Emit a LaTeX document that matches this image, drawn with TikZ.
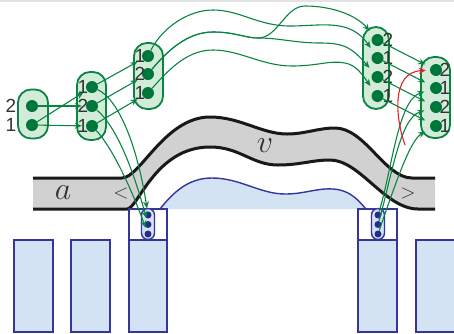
\RequirePackage{fix-cm}
\documentclass[tikz,border=0pt]{standalone}
\usepackage{fontspec}
\setmainfont{Liberation Sans}
\usetikzlibrary{arrows.meta}
\definecolor{gline}{HTML}{0A8443}
\definecolor{gdot}{HTML}{00773A}
\definecolor{gfill}{HTML}{D3ECDA}
\definecolor{bline}{HTML}{36369A}
\definecolor{bfill}{HTML}{D3E3F3}
\definecolor{bdot}{HTML}{2A2A8C}
\definecolor{bandc}{HTML}{D1D1D1}
\definecolor{txt}{HTML}{333333}
\definecolor{rline}{HTML}{E8202A}
\begin{document}
\begin{tikzpicture}[x=1pt,y=-1pt,
  gcap/.style={draw=gline, fill=gfill, line width=1.8pt, rounded corners=13pt, inner sep=0},
  gdotn/.style={circle, fill=gdot, inner sep=0, minimum size=12pt},
  bcap/.style={draw=bline, fill=bfill, line width=1.4pt, rounded corners=6.5pt, inner sep=0, minimum width=13pt, minimum height=31pt},
  bdotn/.style={circle, fill=bdot, inner sep=0, minimum size=7pt},
  lab/.style={text=txt, font=\fontsize{19}{19}\selectfont, inner sep=0},
  slab/.style={text=txt, font=\fontsize{20}{20}\selectfont, inner sep=0},
  mlab/.style={text=txt, font=\fontsize{32}{32}\selectfont, inner sep=0},
  garrow/.style={draw=gline, line width=1.1pt, -{Stealth[length=7pt,width=6pt]}, shorten >=6pt},
  sarrow/.style={draw=gline, line width=1.1pt, -{Stealth[length=7pt,width=6pt]}, shorten >=3pt},
  rarrow/.style={draw=rline, line width=1.1pt, -{Stealth[length=7pt,width=6pt]}, shorten >=4pt},
  bbox/.style={draw=bline, line width=1.8pt},
  bandedge/.style={draw=black!90, line width=3pt}
]
\useasboundingbox (0,0) rectangle (454,333);
\clip (0,0) rectangle (454,333);
\fill[gray!22] (0,0) rectangle (454,2);

% band
\fill[bandc] (33,178) -- (122,178) .. controls (140,178) and (165,117) .. (210,117)
  .. controls (240,117) and (262,134) .. (287,134) .. controls (305,134) and (318,128) .. (335,128)
  .. controls (365,128) and (385,178) .. (412,178) -- (435,178) -- (435,209) -- (418,209)
  .. controls (385,209) and (360,160) .. (330,160) .. controls (312,160) and (300,165) .. (278,165)
  .. controls (252,165) and (240,147) .. (210,147) .. controls (155,147) and (138,209) .. (127,209)
  -- (33,209) -- cycle;
\draw[bandedge] (33,178) -- (122,178) .. controls (140,178) and (165,117) .. (210,117)
  .. controls (240,117) and (262,134) .. (287,134) .. controls (305,134) and (318,128) .. (335,128)
  .. controls (365,128) and (385,178) .. (412,178) -- (435,178);
\draw[bandedge] (33,209) -- (127,209) .. controls (138,209) and (155,147) .. (210,147)
  .. controls (240,147) and (252,165) .. (278,165) .. controls (300,165) and (312,160) .. (330,160)
  .. controls (360,160) and (385,209) .. (418,209) -- (435,209);

% hill
\fill[bfill] (160,209) .. controls (175,190) and (190,178) .. (212,178) .. controls (240,178) and (260,194) .. (285,194)
  .. controls (305,194) and (316,188) .. (333,189) .. controls (350,190) and (358,200) .. (366,209) -- cycle;
\draw[draw=bline, line width=1.4pt] (160,209) .. controls (175,190) and (190,178) .. (212,178) .. controls (240,178) and (260,194) .. (285,194)
  .. controls (305,194) and (316,188) .. (333,189) .. controls (350,190) and (358,200) .. (366,209);

% blue boxes
\filldraw[bbox, fill=bfill] (14,240) rectangle (53,332);
\filldraw[bbox, fill=bfill] (71,240) rectangle (110,332);
\filldraw[bbox, fill=white] (129,209) rectangle (167,240);
\filldraw[bbox, fill=bfill] (129,240) rectangle (167,332);
\filldraw[bbox, fill=white] (358,209) rectangle (397,240);
\filldraw[bbox, fill=bfill] (358,240) rectangle (397,332);
\filldraw[bbox, fill=bfill] (416,240) rectangle (470,332);

% blue capsules
\node[bcap] (capL) at (148,224) {};
\node[bcap] (capR) at (378,224) {};
\node[bdotn] (L1) at (148,215) {};
\node[bdotn] (L2) at (148,224.5) {};
\node[bdotn] (L3) at (148,234) {};
\node[bdotn] (R1) at (378,215) {};
\node[bdotn] (R2) at (378,224.5) {};
\node[bdotn] (R3) at (378,234) {};

% green capsules
\node[gcap, minimum width=30pt, minimum height=49pt] (capA) at (33,114) {};
\node[gcap, minimum width=29pt, minimum height=68pt] (capB) at (91.5,106) {};
\node[gcap, minimum width=29pt, minimum height=66pt] (capC) at (148.5,76) {};
\node[gcap, minimum width=26pt, minimum height=82pt] (capD) at (376,68) {};
\node[gcap, minimum width=29pt, minimum height=81pt] (capE) at (435.5,97.5) {};

\node[gdotn] (a1) at (32,106) {};
\node[gdotn] (a2) at (32,125) {};
\node[gdotn] (b1) at (92,87) {};
\node[gdotn] (b2) at (92,106) {};
\node[gdotn] (b3) at (92,126) {};
\node[gdotn] (c1) at (148,56) {};
\node[gdotn] (c2) at (148,74) {};
\node[gdotn] (c3) at (148,93) {};
\node[gdotn] (d1) at (377.5,40) {};
\node[gdotn] (d2) at (377.5,58) {};
\node[gdotn] (d3) at (377.5,77) {};
\node[gdotn] (d4) at (377.5,96) {};
\node[gdotn] (e1) at (436,70) {};
\node[gdotn] (e2) at (436,88) {};
\node[gdotn] (e3) at (436,107) {};
\node[gdotn] (e4) at (436,126) {};

% labels
\node[lab] (la1) at (11,106) {2};
\node[lab] (la2) at (11,125) {1};
\node[lab] (lb1) at (83,87) {1};
\node[lab] (lb2) at (83,106) {2};
\node[lab] (lb3) at (83,126) {1};
\node[lab] (lc1) at (140,56) {1};
\node[lab] (lc2) at (140,74) {2};
\node[lab] (lc3) at (140,93) {1};
\node[lab] (ld1) at (388,40) {2};
\node[lab] (ld2) at (388,58) {1};
\node[lab] (ld3) at (388,77) {2};
\node[lab] (ld4) at (388,96) {1};
\node[lab] (le1) at (445,70) {2};
\node[lab] (le2) at (445,88) {1};
\node[lab] (le3) at (445,107) {2};
\node[lab] (le4) at (445,126) {1};
\node[mlab] (ta) at (63,193) {$a$};
\node[mlab] (tv) at (265,146) {$v$};
\node[slab] (tlt) at (121,193) {$<$};
\node[slab] (tgt) at (408,193) {$>$};

% A -> B
\draw[garrow, shorten >=4pt] (a1) -- (b2);
\draw[garrow, shorten >=4pt] (a2) -- (b3);
\draw[garrow, shorten >=4pt] (a2) -- (b1);
% B -> C
\draw[garrow] (b1) -- (c1);
\draw[garrow] (b2) -- (c2);
\draw[garrow] (b3) -- (c3);
% B -> left blue capsule
\draw[sarrow] (b1) .. controls (120,100) and (138,150) .. (L1);
\draw[sarrow] (b2) .. controls (115,125) and (132,165) .. (L2);
\draw[sarrow] (b3) .. controls (110,145) and (128,180) .. (L3);
% C -> D waves
\coordinate (split) at (258,38);
\draw[garrow] (c1) .. controls (162,28) and (188,10) .. (213,10) .. controls (240,10) and (258,26) .. (290,26)
  .. controls (322,26) and (350,18) .. (d2);
\draw[garrow] (c2) .. controls (168,50) and (188,32) .. (213,32) .. controls (235,32) and (245,38) .. (split)
  .. controls (278,38) and (285,6) .. (305,6) .. controls (330,6) and (355,14) .. (d1);
\draw[garrow] (c2) .. controls (168,50) and (188,32) .. (213,32) .. controls (235,32) and (245,38) .. (split)
  .. controls (280,38) and (295,43) .. (320,43) .. controls (345,43) and (352,48) .. (d3);
\draw[garrow] (c3) .. controls (170,68) and (188,50) .. (213,50) .. controls (240,50) and (262,66) .. (292,66)
  .. controls (318,66) and (330,60) .. (345,63) .. controls (356,65) and (362,74) .. (d4);
% D -> E
\draw[garrow] (d1) -- (e1);
\draw[garrow] (d2) -- (e2);
\draw[garrow] (d3) -- (e3);
\draw[garrow] (d4) -- (e4);
% right blue capsule -> E
\draw[garrow] (R1) .. controls (392,170) and (398,100) .. (e2);
\draw[garrow] (R2) .. controls (392,175) and (400,118) .. (e3);
\draw[garrow] (R3) .. controls (395,185) and (410,140) .. (e4);
% red
\coordinate (redstart) at (405,145);
\draw[rarrow] (redstart) .. controls (396,120) and (390,72) .. (e1);
\end{tikzpicture}
\end{document}
